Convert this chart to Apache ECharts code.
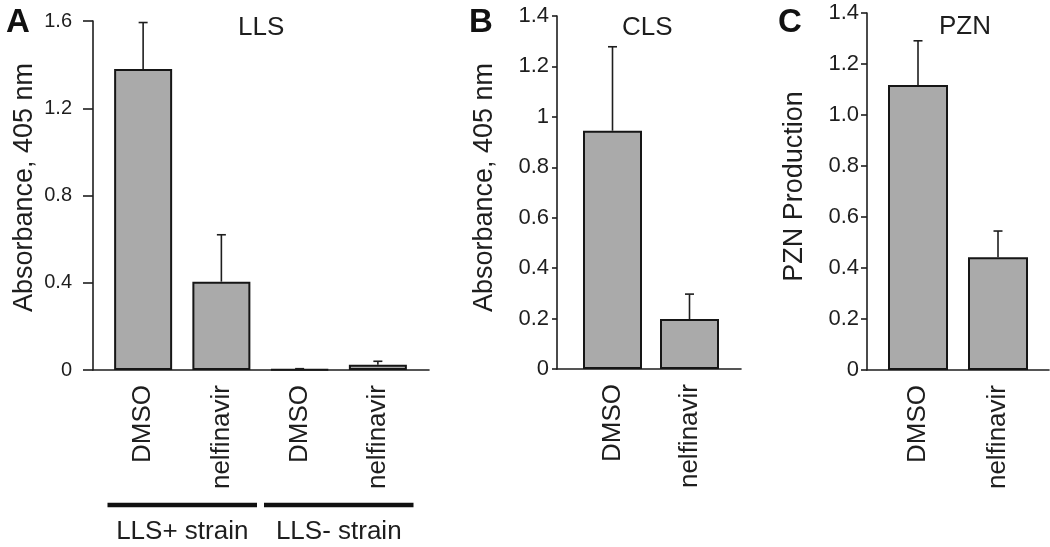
<!DOCTYPE html>
<html><head><meta charset="utf-8">
<script src="https://cdn.jsdelivr.net/npm/echarts@6/dist/echarts.min.js"></script>
<style>html,body{margin:0;padding:0;background:#fff}#c{width:1050px;height:547px}</style>
</head><body><div id="c"></div>
<script>
// ---- data ----
const catsA = ['DMSO', 'nelfinavir', 'DMSO', 'nelfinavir'];
const valsA = [1.38, 0.405, 0.003, 0.024];
const errA = [0.213, 0.215, 0.003, 0.016];
const groupsA = ['LLS+ strain', 'LLS- strain'];
const groupSpanA = [[0, 1], [2, 3]];
const yTicksA = [0, 0.4, 0.8, 1.2, 1.6];

const catsB = ['DMSO', 'nelfinavir'];
const valsB = [0.945, 0.198];
const errB = [0.333, 0.099];
const yTicksB = [0, 0.2, 0.4, 0.6, 0.8, 1, 1.2, 1.4];

const catsC = ['DMSO', 'nelfinavir'];
const valsC = [1.118, 0.442];
const errC = [0.173, 0.103];
const yTicksC = [0, 0.2, 0.4, 0.6, 0.8, 1.0, 1.2, 1.4];

// ---- layout / style ----
const FONT = '"Liberation Sans", Arial, sans-serif';
const INK = '#1e1e1e';
const W = 1050, H = 547;
const panels = [
  {letter: 'A', title: 'LLS', cats: catsA, vals: valsA, errs: errA, ticks: yTicksA,
   name: 'Absorbance, 405 nm', fmt: v => String(v),
   frame: {x0: 93, x1: 429, top: 21, bottom: 370}, bars: {x0: 104, x1: 417},
   tickLen: 10, labelMargin: 21, tickFont: 20, nameGap: 55, nameShift: 16, barWidth: 58,
   letterPos: {left: 6, top: 6}, titlePos: {left: 238, top: 15}},
  {letter: 'B', title: 'CLS', cats: catsB, vals: valsB, errs: errB, ticks: yTicksB,
   name: 'Absorbance, 405 nm', fmt: v => String(v),
   frame: {x0: 557, x1: 741, top: 16, bottom: 369}, bars: {x0: 574, x1: 728},
   tickLen: 5, labelMargin: 8, tickFont: 22, nameGap: 59, nameShift: 10, barWidth: 59,
   letterPos: {left: 469, top: 6}, titlePos: {left: 622, top: 15}},
  {letter: 'C', title: 'PZN', cats: catsC, vals: valsC, errs: errC, ticks: yTicksC,
   name: 'PZN Production', fmt: v => (v === 0 ? '0' : v.toFixed(1)),
   frame: {x0: 867, x1: 1049, top: 13, bottom: 370}, bars: {x0: 878, x1: 1038},
   tickLen: 6, labelMargin: 8, tickFont: 22, nameGap: 59, nameShift: 10, barWidth: 60,
   letterPos: {left: 778, top: 6}, titlePos: {left: 939, top: 14}}
];

function errRender(params, api) {
  const i = api.value(0), v = api.value(1), e = api.value(2);
  const b = api.coord([i, v]);
  const t = api.coord([i, v + e]);
  const st = {stroke: INK, lineWidth: 1.6};
  return {type: 'group', children: [
    {type: 'line', shape: {x1: b[0], y1: b[1], x2: t[0], y2: t[1]}, style: st},
    {type: 'line', shape: {x1: t[0] - 4.5, y1: t[1], x2: t[0] + 4.5, y2: t[1]}, style: st}
  ]};
}

function groupRender(params, api) {
  const s = api.value(0), e = api.value(1);
  const p0 = api.coord([s, 0]), p1 = api.coord([e, 0]);
  const band = api.size([1, 0])[0];
  const xa = p0[0] - band / 2 + 3.5, xb = p1[0] + band / 2 - 3.5;
  const y = p0[1] + 135;
  return {type: 'group', children: [
    {type: 'line', shape: {x1: xa, y1: y, x2: xb, y2: y}, style: {stroke: '#111', lineWidth: 4.5}},
    {type: 'text', style: {text: groupsA[params.dataIndex], x: (xa + xb) / 2, y: y + 27,
      align: 'center', verticalAlign: 'middle', fontSize: 26, fontFamily: FONT, fill: INK}}
  ]};
}

const option = {animation: false, backgroundColor: '#fff', title: [], grid: [], xAxis: [], yAxis: [], series: []};

panels.forEach((p, k) => {
  const gF = 2 * k, gB = 2 * k + 1;
  const ymin = p.ticks[0], ymax = p.ticks[p.ticks.length - 1];
  const interval = p.ticks[1] - p.ticks[0];
  option.title.push({text: p.letter, left: p.letterPos.left, top: p.letterPos.top, padding: 0,
    textStyle: {fontFamily: FONT, fontWeight: 'bold', fontSize: 33, color: '#111'}});
  option.title.push({text: p.title, left: p.titlePos.left, top: p.titlePos.top, padding: 0,
    textStyle: {fontFamily: FONT, fontWeight: 'normal', fontSize: 26, color: INK}});
  option.grid.push({left: p.frame.x0, width: p.frame.x1 - p.frame.x0, top: p.frame.top, height: p.frame.bottom - p.frame.top, containLabel: false});
  option.grid.push({left: p.bars.x0, width: p.bars.x1 - p.bars.x0, top: p.frame.top, height: p.frame.bottom - p.frame.top, containLabel: false});
  option.xAxis.push({gridIndex: gF, type: 'value', min: 0, max: 1,
    axisLine: {show: true, lineStyle: {color: INK, width: 1.6}}, axisTick: {show: false},
    axisLabel: {show: false}, splitLine: {show: false}});
  option.xAxis.push({gridIndex: gB, type: 'category', data: p.cats,
    axisLine: {show: false}, axisTick: {show: false}, splitLine: {show: false},
    axisLabel: {rotate: 90, margin: 15, fontSize: 26, fontFamily: FONT, color: INK, interval: 0}});
  option.yAxis.push({gridIndex: gF, type: 'value', min: ymin, max: ymax, interval: interval,
    axisLine: {show: true, lineStyle: {color: INK, width: 1.6}},
    axisTick: {show: true, inside: false, length: p.tickLen, lineStyle: {color: INK, width: 1.6}},
    splitLine: {show: false},
    axisLabel: {margin: p.labelMargin, fontSize: p.tickFont, fontFamily: FONT, color: INK, formatter: p.fmt},
    name: p.name, nameLocation: 'middle', nameGap: p.nameGap,
    nameTextStyle: {fontSize: 27, fontFamily: FONT, color: INK, padding: [0, 0, 0, p.nameShift]}});
  option.yAxis.push({gridIndex: gB, type: 'value', min: ymin, max: ymax, interval: interval, show: false});
  option.series.push({type: 'bar', xAxisIndex: gB, yAxisIndex: gB, data: p.vals, barWidth: p.barWidth,
    itemStyle: {color: '#aaaaaa', borderColor: '#161616', borderWidth: 2}, z: 2});
  option.series.push({type: 'custom', xAxisIndex: gB, yAxisIndex: gB, renderItem: errRender,
    data: p.vals.map((v, i) => [i, v, p.errs[i]]), encode: {x: 0, y: 1}, z: 3, clip: false});
  if (k === 0) {
    option.series.push({type: 'custom', xAxisIndex: gB, yAxisIndex: gB, renderItem: groupRender,
      data: groupSpanA.map(s => [s[0], s[1]]), encode: {x: [0, 1]}, z: 3, clip: false});
  }
});

const chart = echarts.init(document.getElementById('c'), null, {renderer: 'canvas', width: W, height: H});
chart.setOption(option);
</script></body></html>
